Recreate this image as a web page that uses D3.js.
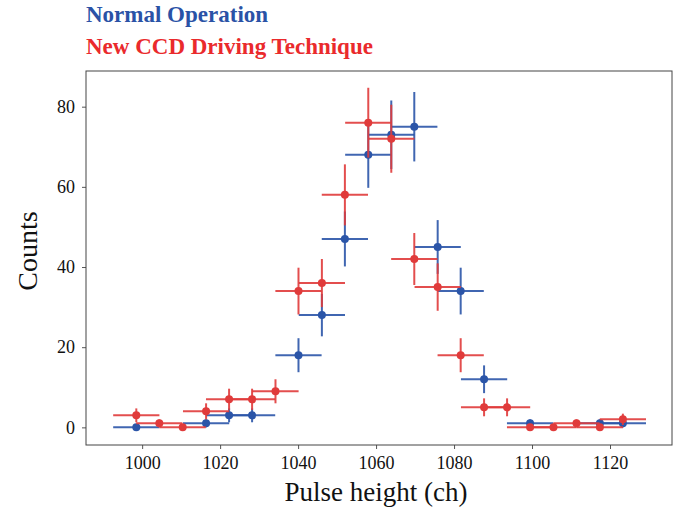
<!DOCTYPE html>
<html><head><meta charset="utf-8">
<script src="https://cdn.jsdelivr.net/npm/d3@7"></script>
<style>body{margin:0;background:#fff}svg{display:block}</style>
</head><body>
<svg id="c" width="679" height="511"></svg>
<script>
const binCenters = [998.5,1004.4,1010.4,1016.4,1022.3,1028.2,1034.2,1040.1,1046.1,1052.0,1058.0,1063.9,1069.8,1075.8,1081.7,1087.7,1093.6,1099.5,1105.5,1111.4,1117.4,1123.3];
const binHalfWidth = 5.93;
const normalCounts = [0,null,null,1,3,3,null,18,28,47,68,73,75,45,34,12,null,1,null,null,1,1];
const newCounts =    [3,1,0,4,7,7,9,34,36,58,76,72,42,35,18,5,5,0,0,1,0,2];
const xTicks = [1000,1020,1040,1060,1080,1100,1120];
const yTicks = [0,20,40,60,80];
const seriesNames = ["Normal Operation","New CCD Driving Technique"];
const seriesColors = ["#2b55a8","#e03b3b"];
const titleColors = ["#2a52a6","#ea2a2c"];

const svg = d3.select("#c");
const L=86, R=672, T=71, B=445;
const x = d3.scaleLinear().domain([985.6,1135.9]).range([L,R]);
const y = d3.scaleLinear().domain([-4.4,88.9]).range([B,T]);
const font = "'Liberation Serif','Times New Roman',serif";

// axes
const xa = svg.append("g").attr("transform",`translate(0,${B})`).call(d3.axisBottom(x).tickValues(xTicks).tickSize(4).tickPadding(7).tickFormat(d3.format("d")));
const ya = svg.append("g").attr("transform",`translate(${L},0)`).call(d3.axisLeft(y).tickValues(yTicks).tickSize(4).tickPadding(7));
[xa,ya].forEach(a=>{
  a.attr("font-family",font).attr("font-size",18);
  a.select(".domain").remove();
  a.selectAll(".tick line").attr("stroke","#555").attr("stroke-width",1);
  a.selectAll(".tick text").attr("font-family",font).attr("font-size",18).attr("fill","#111");
});
svg.append("rect").attr("x",L).attr("y",T).attr("width",R-L).attr("height",B-T)
  .attr("fill","none").attr("stroke","#444").attr("stroke-width",1);

function drawSeries(counts,color){
  const pts = binCenters.map((c,i)=>({c, v:counts[i]})).filter(d=>d.v!==null);
  const g = svg.append("g");
  g.selectAll("line.h").data(pts).join("line")
    .attr("x1",d=>x(d.c-binHalfWidth)).attr("x2",d=>x(d.c+binHalfWidth))
    .attr("y1",d=>y(d.v)).attr("y2",d=>y(d.v))
    .attr("stroke",color).attr("stroke-width",2).attr("stroke-opacity",0.9);
  g.selectAll("line.v").data(pts.filter(d=>d.v>0)).join("line")
    .attr("x1",d=>x(d.c)).attr("x2",d=>x(d.c))
    .attr("y1",d=>y(d.v-Math.sqrt(d.v))).attr("y2",d=>y(d.v+Math.sqrt(d.v)))
    .attr("stroke",color).attr("stroke-width",2).attr("stroke-opacity",0.9);
  g.selectAll("circle").data(pts).join("circle")
    .attr("cx",d=>x(d.c)).attr("cy",d=>y(d.v)).attr("r",4).attr("fill",color);
}
drawSeries(normalCounts,seriesColors[0]);
drawSeries(newCounts,seriesColors[1]);

// labels
svg.append("text").attr("x",x(1060)).attr("y",501).attr("text-anchor","middle")
  .attr("font-family",font).attr("font-size",27).attr("fill","#111").text("Pulse height (ch)");
svg.append("text").attr("transform",`translate(37,251) rotate(-90)`).attr("text-anchor","middle")
  .attr("font-family",font).attr("font-size",28).attr("fill","#111").text("Counts");

seriesNames.forEach((n,i)=>{
  svg.append("text").attr("x",86).attr("y",22+i*32).attr("font-family",font)
    .attr("font-weight","bold").attr("font-size",23).attr("fill",titleColors[i]).text(n);
});
</script>
</body></html>
